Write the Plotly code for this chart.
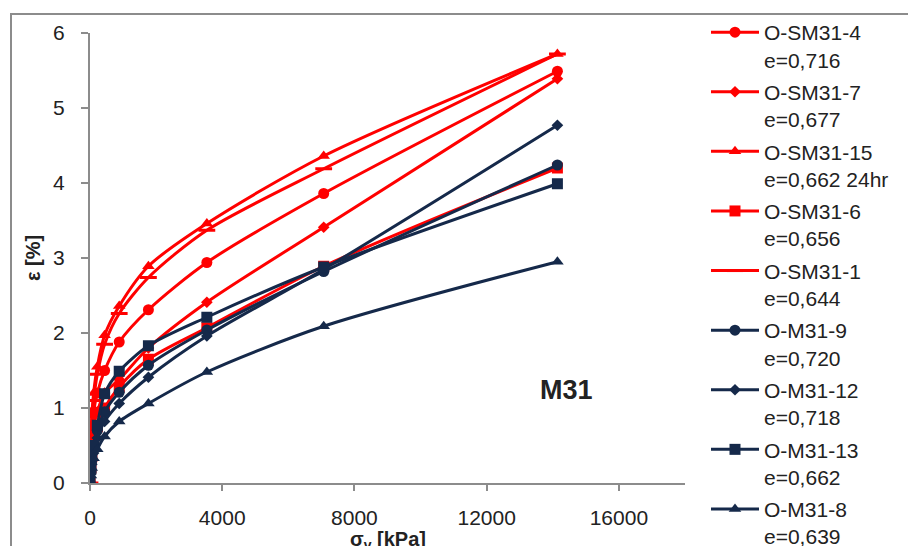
import plotly.graph_objects as go

# applied vertical stress steps [kPa]
sigma = [0, 28, 55, 110, 221, 442, 884, 1767, 3535, 7070, 14140]

names = ["O-SM31-4<br>e=0,716", "O-SM31-7<br>e=0,677", "O-SM31-15<br>e=0,662 24hr",
         "O-SM31-6<br>e=0,656", "O-SM31-1<br>e=0,644", "O-M31-9<br>e=0,720",
         "O-M31-12<br>e=0,718", "O-M31-13<br>e=0,662", "O-M31-8<br>e=0,639"]

SM31_4 = [0, 0.40, 0.65, 0.95, 1.20, 1.50, 1.88, 2.31, 2.94, 3.86, 5.49]
SM31_7 = [0, 0.30, 0.50, 0.75, 0.95, 1.20, 1.38, 1.80, 2.41, 3.41, 5.39]
SM31_15 = [0, 0.55, 0.90, 1.20, 1.55, 1.97, 2.36, 2.89, 3.46, 4.36, 5.72]
SM31_6 = [0, 0.20, 0.35, 0.55, 0.75, 1.00, 1.28, 1.65, 2.07, 2.89, 4.20]
SM31_1 = [0, 0.50, 0.80, 1.10, 1.45, 1.85, 2.26, 2.74, 3.37, 4.19, 5.72]
M31_9 = [0, 0.15, 0.30, 0.50, 0.70, 0.95, 1.21, 1.57, 2.04, 2.82, 4.24]
M31_12 = [0, 0.12, 0.25, 0.40, 0.60, 0.82, 1.06, 1.41, 1.96, 2.85, 4.77]
M31_13 = [0, 0.20, 0.40, 0.50, 0.77, 1.19, 1.49, 1.83, 2.21, 2.88, 3.99]
M31_8 = [0, 0.10, 0.20, 0.33, 0.45, 0.62, 0.82, 1.06, 1.48, 2.09, 2.95]

series = [SM31_4, SM31_7, SM31_15, SM31_6, SM31_1, M31_9, M31_12, M31_13, M31_8]

x_ticks = [0, 4000, 8000, 12000, 16000]
x_ticklabels = ["0", "4000", "8000", "12000", "16000"]
y_ticks = [0, 1, 2, 3, 4, 5, 6]

RED = "#FF0000"
NAVY = "#15294A"
colors = [RED] * 5 + [NAVY] * 4
symbols = ["circle", "diamond", "triangle-up", "square", "line-ew",
           "circle", "diamond", "square", "triangle-up"]
sizes = [11, 9, 11, 11, 12, 11, 9, 11, 11]

FONT = "Liberation Sans"
AXC = "#8C8C8C"
TXT = "#222222"

fig = go.Figure()
for nm, ys, c, s, sz in zip(names, series, colors, symbols, sizes):
    fig.add_trace(go.Scatter(
        x=sigma, y=ys, name=nm, mode="lines+markers",
        line=dict(color=c, width=3, shape="spline", smoothing=0.8),
        marker=dict(symbol=s, size=sz, color=c, line=dict(color=c, width=3 if s == "line-ew" else 0)),
        legendgroup=nm,
    ))

fig.update_layout(
    width=908, height=546,
    margin=dict(l=90, r=223, t=33, b=63, autoexpand=False),
    paper_bgcolor="white", plot_bgcolor="white",
    font=dict(family=FONT, size=21, color=TXT),
    showlegend=True,
    legend=dict(x=(706 - 90) / 595, xanchor="left", yref="container", y=1 - 12 / 546,
                yanchor="top", valign="top", itemwidth=48, maxheight=1200,
                font=dict(size=21, color=TXT), tracegroupgap=2,
                bgcolor="rgba(0,0,0,0)"),
    xaxis=dict(range=[0, 18000], tickvals=x_ticks, ticktext=x_ticklabels,
               showgrid=False, zeroline=False, showline=True, linecolor=AXC, linewidth=2,
               ticks="outside", ticklen=6, tickwidth=2, tickcolor=AXC,
               ticklabelstandoff=9, automargin=False, tickfont=dict(size=21)),
    yaxis=dict(range=[0, 6], tickvals=y_ticks,
               showgrid=False, zeroline=False, showline=True, linecolor=AXC, linewidth=2,
               ticks="outside", ticklen=7, tickwidth=2, tickcolor=AXC,
               ticklabelstandoff=12, automargin=False, tickfont=dict(size=21)),
    annotations=[
        dict(x=14400, y=1.24, xref="x", yref="y", text="<b>M31</b>",
             showarrow=False, font=dict(size=27, color=TXT)),
        dict(x=0.5, y=(483 - 540) / 450, xref="paper", yref="paper",
             text="<b>σ<sub>v</sub> [kPa]</b>", showarrow=False,
             font=dict(size=20, color=TXT), yanchor="middle"),
        dict(x=(33 - 90) / 595, y=0.5, xref="paper", yref="paper",
             text="<b>ε [%]</b>", showarrow=False, textangle=-90,
             font=dict(size=20, color=TXT), xanchor="center"),
    ],
    shapes=[dict(type="rect", xref="paper", yref="paper",
                 x0=(11 - 90) / 595, x1=(940 - 90) / 595,
                 y0=(483 - 580) / 450, y1=(483 - 14) / 450,
                 line=dict(color=AXC, width=2), layer="below")],
)

fig.write_html("out.html")
